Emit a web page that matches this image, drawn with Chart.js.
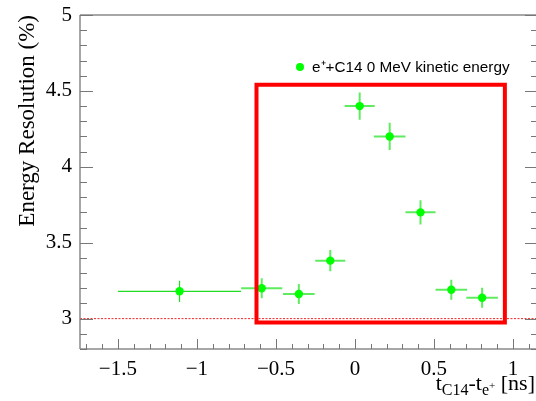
<!DOCTYPE html>
<html><head><meta charset="utf-8">
<script src="https://cdn.jsdelivr.net/npm/chart.js@4/dist/chart.umd.min.js"></script>
<style>html,body{margin:0;padding:0;background:#fff;}#wrap{width:536px;height:401px;position:relative;}</style>
</head><body><div id="wrap"><canvas id="c" width="536" height="401"></canvas></div>
<script>
const xValues = [-1.11, -0.59, -0.355, -0.156, 0.03, 0.22, 0.415, 0.61, 0.805];
const yValues = [3.18, 3.20, 3.162, 3.382, 4.40, 4.20, 3.70, 3.19, 3.138];
const xErrors = [0.39, 0.13, 0.10, 0.095, 0.095, 0.10, 0.095, 0.10, 0.10];
const yErrors = [0.07, 0.066, 0.066, 0.07, 0.09, 0.09, 0.08, 0.066, 0.066];
const boxX = [-0.623, 0.949, 0.949, -0.623, -0.623];
const boxY = [4.54, 4.54, 2.974, 2.974, 4.54];
const refLineY = 3;
const xTicks = [-1.5, -1, -0.5, 0, 0.5, 1];
const yTicks = [3, 3.5, 4, 4.5, 5];
const xMin = -1.74, xMax = 1.146, yMin = 2.8, yMax = 5;
const legendLabel = "e\u207A+C14 0 MeV kinetic energy";

function fmt(v){ return (v < 0 ? "\u2212" : "") + String(Math.abs(v)); }

const framePlugin = {
  id: 'frame',
  beforeDatasetsDraw(chart) {
    const ctx = chart.ctx, xs = chart.scales.x, ys = chart.scales.y;
    ctx.save();
    for (let i = 0; i < xValues.length; i++) {
      const px = xs.getPixelForValue(xValues[i]), py = ys.getPixelForValue(yValues[i]);
      ctx.strokeStyle = i === 0 ? '#22dd22' : 'rgba(40,230,40,0.75)';
      ctx.lineWidth = i === 0 ? 1.2 : 2;
      ctx.beginPath();
      ctx.moveTo(xs.getPixelForValue(xValues[i] - xErrors[i]), py);
      ctx.lineTo(xs.getPixelForValue(xValues[i] + xErrors[i]), py);
      ctx.moveTo(px, ys.getPixelForValue(yValues[i] - yErrors[i]));
      ctx.lineTo(px, ys.getPixelForValue(yValues[i] + yErrors[i]));
      ctx.stroke();
    }
    ctx.restore();
  },
  afterDatasetsDraw(chart) {
    const ctx = chart.ctx, xs = chart.scales.x, ys = chart.scales.y, a = chart.chartArea;
    const rightEdge = chart.width;
    ctx.save();
    ctx.strokeStyle = '#8a8a8a';
    ctx.lineWidth = 1.5;
    ctx.beginPath();
    ctx.moveTo(a.left, a.top); ctx.lineTo(rightEdge, a.top);
    ctx.moveTo(a.left, a.top); ctx.lineTo(a.left, a.bottom);
    ctx.moveTo(a.left, a.bottom); ctx.lineTo(rightEdge, a.bottom);
    ctx.stroke();
    ctx.lineWidth = 1;
    ctx.strokeStyle = '#777';
    ctx.beginPath();
    for (let k = -17; k <= 11; k++) {
      const v = k / 10;
      if (v < xMin || v > xMax) continue;
      const px = Math.round(xs.getPixelForValue(v)) + 0.5;
      const len = (k % 5 === 0) ? 10 : 5;
      ctx.moveTo(px, a.bottom); ctx.lineTo(px, a.bottom - len);
    }
    for (let k = 28; k <= 50; k++) {
      const v = k / 10;
      const py = Math.round(ys.getPixelForValue(v)) + 0.5;
      const len = (k % 5 === 0) ? 13 : 7;
      ctx.moveTo(a.left, py); ctx.lineTo(a.left + len, py);
      ctx.moveTo(rightEdge, py); ctx.lineTo(rightEdge - len + 2, py);
    }
    ctx.stroke();
    ctx.fillStyle = '#000';
    ctx.font = '23px "Liberation Serif", serif';
    ctx.save();
    ctx.translate(34, a.top);
    ctx.rotate(-Math.PI / 2);
    ctx.textAlign = 'right';
    ctx.textBaseline = 'alphabetic';
    ctx.fillText('Energy Resolution (%)', 0, 0);
    ctx.restore();
    const parts = [
      {t: 't', f: 22, dy: 0},
      {t: 'C14', f: 16, dy: 5},
      {t: '-t', f: 22, dy: 0},
      {t: 'e', f: 16, dy: 5},
      {t: '+', f: 11, dy: -1},
      {t: ' [ns]', f: 22, dy: 0}
    ];
    let total = 0;
    parts.forEach(p => { ctx.font = p.f + 'px "Liberation Serif", serif'; p.w = ctx.measureText(p.t).width; total += p.w; });
    let x = 535 - total;
    const base = 390;
    ctx.textAlign = 'left';
    parts.forEach(p => { ctx.font = p.f + 'px "Liberation Serif", serif'; ctx.fillText(p.t, x, base + p.dy); x += p.w; });
    ctx.fillStyle = '#00ff00';
    ctx.beginPath(); ctx.arc(300, 67, 4, 0, Math.PI * 2); ctx.fill();
    ctx.fillStyle = '#000';
    ctx.font = '15.3px "Liberation Sans", Arial, sans-serif';
    ctx.textBaseline = 'alphabetic';
    ctx.fillText(legendLabel, 312, 72);
    ctx.restore();
  }
};

const chart = new Chart(document.getElementById('c'), {
  type: 'scatter',
  data: {
    datasets: [
      {
        label: legendLabel,
        data: xValues.map((x, i) => ({x: x, y: yValues[i]})),
        backgroundColor: '#00ff00',
        borderWidth: 0,
        pointRadius: 4.2,
        pointHoverRadius: 4.2,
        order: 2
      },
      {
        label: 'box',
        data: boxX.map((x, i) => ({x: x, y: boxY[i]})),
        showLine: true,
        borderColor: '#ff0000',
        borderWidth: 4,
        borderJoinStyle: 'miter',
        borderCapStyle: 'square',
        pointRadius: 0,
        fill: false,
        order: 1
      },
      {
        label: 'ref',
        data: [{x: xMin, y: refLineY}, {x: xMax, y: refLineY}],
        showLine: true,
        borderColor: '#ee2222',
        borderWidth: 1,
        borderDash: [2, 1.5],
        pointRadius: 0,
        fill: false,
        order: 3
      }
    ]
  },
  options: {
    responsive: false,
    animation: false,
    devicePixelRatio: 1,
    layout: {autoPadding: false, padding: {top: 15, right: 0, left: 0, bottom: 0}},
    plugins: {legend: {display: false}, tooltip: {enabled: false}},
    scales: {
      x: {
        type: 'linear', min: xMin, max: xMax,
        grid: {display: false, drawTicks: false},
        border: {display: false},
        afterBuildTicks: s => { s.ticks = xTicks.map(v => ({value: v})); },
        afterFit: s => { s.height = 52; s.paddingLeft = 0; s.paddingRight = 0; },
        ticks: {
          callback: v => fmt(v),
          color: '#000', padding: 8, maxRotation: 0, autoSkip: false,
          font: {family: '"Liberation Serif", serif', size: 21}
        }
      },
      y: {
        type: 'linear', min: yMin, max: yMax,
        grid: {display: false, drawTicks: false},
        border: {display: false},
        afterBuildTicks: s => { s.ticks = yTicks.map(v => ({value: v})); },
        afterFit: s => { s.width = 80; s.paddingTop = 0; s.paddingBottom = 0; },
        ticks: {
          callback: v => fmt(v),
          color: '#000', padding: 8, autoSkip: false,
          font: {family: '"Liberation Serif", serif', size: 21}
        }
      }
    }
  },
  plugins: [framePlugin]
});
</script>
</body></html>
